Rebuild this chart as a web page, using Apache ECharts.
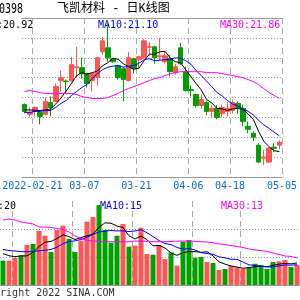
<!DOCTYPE html>
<html><head><meta charset="utf-8">
<script src="https://cdn.jsdelivr.net/npm/echarts@6/dist/echarts.min.js"></script>
<style>html,body{margin:0;padding:0;background:#fff}#c{width:300px;height:300px}</style>
</head><body><div id="c"></div>
<script>
const dates = ['2022-02-17','2022-02-18','2022-02-21','2022-02-22','2022-02-23','2022-02-24','2022-02-25','2022-02-28','2022-03-01','2022-03-02','2022-03-03','2022-03-04','2022-03-07','2022-03-08','2022-03-09','2022-03-10','2022-03-11','2022-03-14','2022-03-15','2022-03-16','2022-03-17','2022-03-18','2022-03-21','2022-03-22','2022-03-23','2022-03-24','2022-03-25','2022-03-28','2022-03-29','2022-03-30','2022-03-31','2022-04-01','2022-04-06','2022-04-07','2022-04-08','2022-04-11','2022-04-12','2022-04-13','2022-04-14','2022-04-15','2022-04-18','2022-04-19','2022-04-20','2022-04-21','2022-04-22','2022-04-25','2022-04-26','2022-04-27','2022-04-28','2022-04-29'];
const nextDate = '2022-05-05';
const open  = [21.86,21.66,21.72,21.70,21.66,21.90,21.92,22.34,22.33,22.34,22.60,22.60,22.48,22.34,22.40,22.92,23.00,22.78,22.64,22.58,22.34,22.78,22.76,22.80,23.01,23.02,22.82,22.72,22.78,22.50,23.00,22.52,22.16,22.06,21.84,21.90,21.72,21.78,21.68,21.72,21.74,21.88,21.78,21.42,21.28,21.04,20.78,20.70,21.00,21.04];
const close = [21.72,21.70,21.80,21.62,21.92,21.80,22.22,22.40,22.32,22.66,22.62,22.48,22.28,22.48,22.80,23.14,22.80,22.72,22.40,22.36,22.80,22.58,22.82,23.14,23.02,22.80,22.84,22.84,22.52,22.62,22.68,22.14,22.14,21.84,21.96,21.72,21.78,21.60,21.80,21.78,21.90,21.80,21.52,21.36,21.20,20.70,20.80,20.98,20.98,21.10];
const low   = [21.68,21.62,21.62,21.46,21.64,21.62,21.92,22.12,22.10,22.32,22.42,22.38,22.20,22.12,22.24,22.86,22.72,22.70,22.36,21.92,22.32,22.48,22.58,22.78,22.84,22.68,22.74,22.68,22.42,22.46,22.66,22.12,22.02,21.80,21.78,21.64,21.60,21.56,21.60,21.62,21.68,21.68,21.42,21.28,21.12,20.68,20.64,20.68,20.90,20.96];
const high  = [21.88,21.80,21.82,21.72,22.00,22.02,22.28,22.54,22.36,22.82,23.02,22.80,22.50,22.50,22.82,23.22,23.54,22.80,22.66,22.60,22.92,22.80,22.84,23.18,23.12,23.04,23.20,22.94,22.86,22.68,23.10,22.62,22.24,22.08,22.06,21.94,21.84,21.84,21.86,21.90,21.96,21.92,21.86,21.52,21.32,21.08,20.94,21.00,21.08,21.14];
const ma5  = [21.75,21.75,21.74,21.74,21.75,21.77,21.87,21.99,22.13,22.28,22.44,22.50,22.47,22.50,22.53,22.64,22.70,22.79,22.77,22.68,22.62,22.57,22.59,22.74,22.87,22.87,22.92,22.93,22.80,22.72,22.70,22.56,22.42,22.28,22.15,21.96,21.89,21.78,21.77,21.74,21.77,21.78,21.76,21.67,21.56,21.32,21.12,21.01,20.93,20.91];
const ma10 = [21.70,21.70,21.72,21.72,21.74,21.74,21.80,21.88,21.94,22.04,22.12,22.20,22.26,22.38,22.48,22.56,22.61,22.63,22.64,22.61,22.63,22.64,22.69,22.76,22.78,22.74,22.75,22.76,22.77,22.80,22.79,22.74,22.67,22.54,22.44,22.33,22.22,22.10,22.03,21.94,21.87,21.83,21.77,21.72,21.65,21.54,21.45,21.38,21.30,21.23];
const ma30 = [22.12,22.14,22.12,22.10,22.08,22.08,22.08,22.08,22.08,22.08,22.06,22.02,22.00,21.98,21.98,21.98,22.00,22.04,22.08,22.14,22.18,22.22,22.26,22.30,22.34,22.38,22.40,22.44,22.48,22.50,22.52,22.52,22.52,22.52,22.52,22.50,22.50,22.50,22.48,22.46,22.44,22.42,22.40,22.36,22.32,22.26,22.18,22.10,22.04,21.98];
const volume = [17.4,17.4,19.3,21.4,28.6,29.3,38.6,35.2,23.6,39.3,42.4,32.9,23.6,31.6,45.2,48.6,57.1,39.3,30.2,35.2,43.6,27.4,28.1,40.9,22.1,21.6,28.6,18.6,23.4,13.8,30.9,32.1,19.5,20.0,16.4,15.7,10.7,11.4,13.6,12.6,11.6,12.6,15.2,14.3,11.4,16.4,16.9,17.9,12.9,14.5];
const volMa5  = [22.4,20.9,20.2,20.7,20.8,23.2,27.4,30.6,31.1,33.2,35.8,34.6,32.4,33.9,35.1,36.4,41.2,44.4,44.1,42.1,41.1,35.1,32.9,35.0,32.4,28.0,28.3,26.4,22.9,21.2,23.1,23.8,23.9,23.3,23.8,20.8,16.5,14.9,13.6,12.8,12.0,12.4,13.1,13.3,13.1,14.0,14.9,15.4,15.1,15.7];
const volMa10 = [25.4,24.6,24.3,23.8,23.8,23.9,24.4,24.8,25.4,27.0,29.5,31.1,31.5,32.5,34.1,36.1,37.9,38.4,39.0,38.6,38.7,38.2,38.6,39.6,37.3,34.6,31.7,29.6,28.9,26.8,25.6,26.0,25.1,23.1,22.5,21.9,20.1,19.4,18.4,18.3,16.4,14.4,14.0,13.4,12.9,13.0,13.6,14.3,14.2,14.4];
const volMa30 = [46.4,47.1,46.4,45.0,44.3,43.6,41.4,41.4,41.1,40.4,39.6,37.9,35.0,33.2,31.8,31.4,31.1,30.9,30.9,30.9,30.9,30.9,31.4,31.4,31.1,30.9,30.9,30.9,31.1,31.3,31.4,31.4,31.2,30.9,30.7,30.2,29.4,28.9,28.2,27.5,26.8,25.7,25.0,24.6,23.9,22.9,21.8,20.7,20.4,19.3];
const tickIdx  = [2, 12, 22, 32, 40, 50];
const tickText = ['2022-02-21', '03-07', '03-21', '04-06', '04-18', '05-05'];
const priceLegend = ['MA5:20.92', 'MA10:21.10', 'MA30:21.86'];
const volLegend = ['MA5:20', 'MA10:15', 'MA30:13'];
const titleCode = '300398';
const titleName = '飞凯材料';
const titleKind = '日K线图';
const copyright = 'Copyright 2022 SINA.COM';

const RED = '#ff5555', GREEN = '#00a000';
const bounds = dates.concat([nextDate]);
const candles = dates.map((d, i) => [open[i], close[i], low[i], high[i]]);
const volData = volume.map((v, i) => ({ value: v, itemStyle: { color: close[i] >= open[i] ? RED : GREEN } }));
const showTick = (i) => tickIdx.indexOf(i) >= 0;
const MONO = '"DejaVu Sans Mono", monospace';
const dotted = { color: '#999', width: 1, type: [1, 2] };
const dashed = { color: '#aaa', width: 1, type: [6, 4] };

function line(name, data, color, xi, yi) {
  return { name, type: 'line', data, xAxisIndex: xi, yAxisIndex: yi, symbol: 'none', silent: true,
    lineStyle: { color, width: 1 }, itemStyle: { color } };
}
function legendText(text, x, y, color) {
  return { type: 'text', silent: true, style: { text, x, y, fill: color, font: '10px ' + MONO, textVerticalAlign: 'middle' } };
}

const chart = echarts.init(document.getElementById('c'), null, { renderer: 'canvas' });
chart.setOption({
  animation: false,
  backgroundColor: '#fff',
  grid: [
    { left: 0, right: 0, top: 18, height: 159 },
    { left: 0, right: 0, top: 201, height: 84 }
  ],
  xAxis: [
    { type: 'category', gridIndex: 0, data: dates, boundaryGap: true, position: 'top',
      axisLine: { show: true, lineStyle: { color: '#999', width: 1 } }, axisTick: { show: false },
      axisLabel: { show: false }, splitLine: { show: false } },
    { type: 'category', gridIndex: 0, data: bounds, boundaryGap: false, position: 'bottom',
      axisLine: { show: true, lineStyle: { color: '#999', width: 1 } }, axisTick: { show: false },
      axisLabel: { show: true, interval: showTick, formatter: (v, i) => tickText[tickIdx.indexOf(i)],
        color: '#0a70c0', fontFamily: MONO, fontSize: 10, margin: 4 },
      splitLine: { show: true, interval: showTick, lineStyle: dashed } },
    { type: 'category', gridIndex: 1, data: dates, boundaryGap: true, position: 'top',
      axisLine: { show: true, lineStyle: { color: '#999', width: 1 } }, axisTick: { show: false },
      axisLabel: { show: false }, splitLine: { show: false } },
    { type: 'category', gridIndex: 1, data: bounds, boundaryGap: false, position: 'bottom',
      axisLine: { show: false }, axisTick: { show: false }, axisLabel: { show: false },
      splitLine: { show: true, interval: showTick, lineStyle: dashed } }
  ],
  yAxis: [
    { type: 'value', gridIndex: 0, min: 20.4, max: 23.6, interval: 0.4, scale: true,
      axisLine: { show: false }, axisTick: { show: false }, axisLabel: { show: false },
      splitLine: { show: true, lineStyle: dotted } },
    { type: 'value', gridIndex: 1, min: 0, max: 60, interval: 20,
      axisLine: { show: false }, axisTick: { show: false }, axisLabel: { show: false },
      splitLine: { show: true, showMinLine: false, showMaxLine: false, lineStyle: dotted } }
  ],
  series: [
    { type: 'candlestick', data: candles, xAxisIndex: 0, yAxisIndex: 0, barWidth: 5, silent: true,
      itemStyle: { color: RED, color0: GREEN, borderColor: RED, borderColor0: GREEN, borderWidth: 1 } },
    line('MA5', ma5, '#000000', 0, 0),
    line('MA10', ma10, '#0000ff', 0, 0),
    line('MA30', ma30, '#ff00ff', 0, 0),
    { type: 'bar', data: volData, xAxisIndex: 2, yAxisIndex: 1, barWidth: 5, silent: true },
    line('VMA5', volMa5, '#000000', 2, 1),
    line('VMA10', volMa10, '#0000ff', 2, 1),
    line('VMA30', volMa30, '#ff00ff', 2, 1)
  ],
  graphic: [
    { type: 'text', silent: true, x: 23, y: 9, scaleY: 1.35,
      style: { text: titleCode, x: 0, y: 0, textAlign: 'right', textVerticalAlign: 'middle',
        fill: '#000', font: '10px ' + MONO } },
    { type: 'text', silent: true, style: { text: titleName + ' - ' + titleKind, x: 57, y: 9, textVerticalAlign: 'middle',
        fill: '#000', font: '12px "Liberation Mono", "Noto Sans CJK SC", monospace' } },
    legendText(priceLegend[0], -21, 25, '#000000'),
    legendText(priceLegend[1], 98, 25, '#0000ff'),
    legendText(priceLegend[2], 220, 25, '#ff00ff'),
    legendText(volLegend[0], -20, 206, '#000000'),
    legendText(volLegend[1], 100, 206, '#0000ff'),
    legendText(volLegend[2], 221, 206, '#ff00ff'),
    { type: 'text', silent: true, style: { text: copyright, x: -24, y: 293, textVerticalAlign: 'middle',
        fill: '#333', font: '10px ' + MONO } }
  ]
});
</script></body></html>
